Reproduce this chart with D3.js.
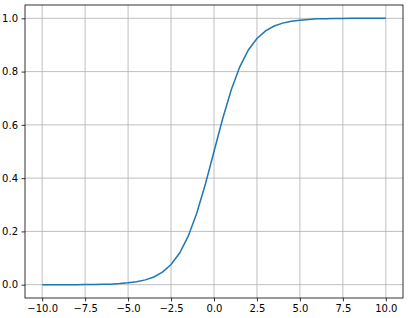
<!DOCTYPE html>
<html lang="en">
<head>
<meta charset="utf-8">
<title>Sigmoid</title>
<script src="https://d3js.org/d3.v7.min.js"></script>
<style>
body { margin: 0; background: #fff; }
text { font-family: "DejaVu Sans", sans-serif; font-size: 10px; fill: #000; }
</style>
</head>
<body>
<div id="container"></div>
<script>
// values
var xs = [-10, -9.5, -9, -8.5, -8, -7.5, -7, -6.5, -6, -5.5, -5, -4.5, -4, -3.5, -3, -2.5, -2, -1.5, -1, -0.5,
          0, 0.5, 1, 1.5, 2, 2.5, 3, 3.5, 4, 4.5, 5, 5.5, 6, 6.5, 7, 7.5, 8, 8.5, 9, 9.5, 10];
var ys = [0.000, 0.000, 0.000, 0.000, 0.000, 0.001, 0.001, 0.002, 0.002, 0.004, 0.007, 0.011, 0.018, 0.029, 0.047, 0.076, 0.119, 0.182, 0.269, 0.378,
          0.500, 0.622, 0.731, 0.818, 0.881, 0.924, 0.953, 0.971, 0.982, 0.989, 0.993, 0.996, 0.998, 0.998, 0.999, 0.999, 1.000, 1.000, 1.000, 1.000, 1.000];
var xTicks = [-10, -7.5, -5, -2.5, 0, 2.5, 5, 7.5, 10];
var yTicks = [0, 0.2, 0.4, 0.6, 0.8, 1.0];

var w = 408, h = 318;
var mLeft = 25, mRight = 403, mTop = 5, mBottom = 298;

var svg = d3.select("#container").append("svg")
    .attr("width", w).attr("height", h);

var x = d3.scaleLinear().domain([-11, 11]).range([mLeft, mRight]);
var y = d3.scaleLinear().domain([-0.05, 1.05]).range([mBottom, mTop]);

// grid
svg.append("g").selectAll("line").data(xTicks).enter().append("line")
    .attr("x1", d => x(d)).attr("x2", d => x(d))
    .attr("y1", mTop).attr("y2", mBottom)
    .attr("stroke", "#b0b0b0").attr("stroke-width", 0.8);
svg.append("g").selectAll("line").data(yTicks).enter().append("line")
    .attr("x1", mLeft).attr("x2", mRight)
    .attr("y1", d => y(d)).attr("y2", d => y(d))
    .attr("stroke", "#b0b0b0").attr("stroke-width", 0.8);

// curve
var line = d3.line().x((d, i) => x(xs[i])).y(d => y(d));
svg.append("path").datum(ys)
    .attr("d", line)
    .attr("fill", "none")
    .attr("stroke", "#1f77b4")
    .attr("stroke-width", 1.5);

// axes
var xAxis = d3.axisBottom(x).tickValues(xTicks).tickSize(3.5).tickPadding(3.5)
    .tickFormat(d => d3.format(".1f")(d).replace("-", "\u2212"));
var yAxis = d3.axisLeft(y).tickValues(yTicks).tickSize(3.5).tickPadding(3.5)
    .tickFormat(d3.format(".1f"));

var gx = svg.append("g").attr("transform", "translate(0," + mBottom + ")").call(xAxis);
var gy = svg.append("g").attr("transform", "translate(" + mLeft + ",0)").call(yAxis);
[gx, gy].forEach(function(g) {
    g.select(".domain").remove();
    g.selectAll("line").attr("stroke", "#000").attr("stroke-width", 0.8);
    g.selectAll("text").attr("font-size", 10).attr("font-family", "DejaVu Sans");
});

// spines
svg.append("rect")
    .attr("x", mLeft).attr("y", mTop)
    .attr("width", mRight - mLeft).attr("height", mBottom - mTop)
    .attr("fill", "none").attr("stroke", "#000").attr("stroke-width", 0.8);
</script>
</body>
</html>
